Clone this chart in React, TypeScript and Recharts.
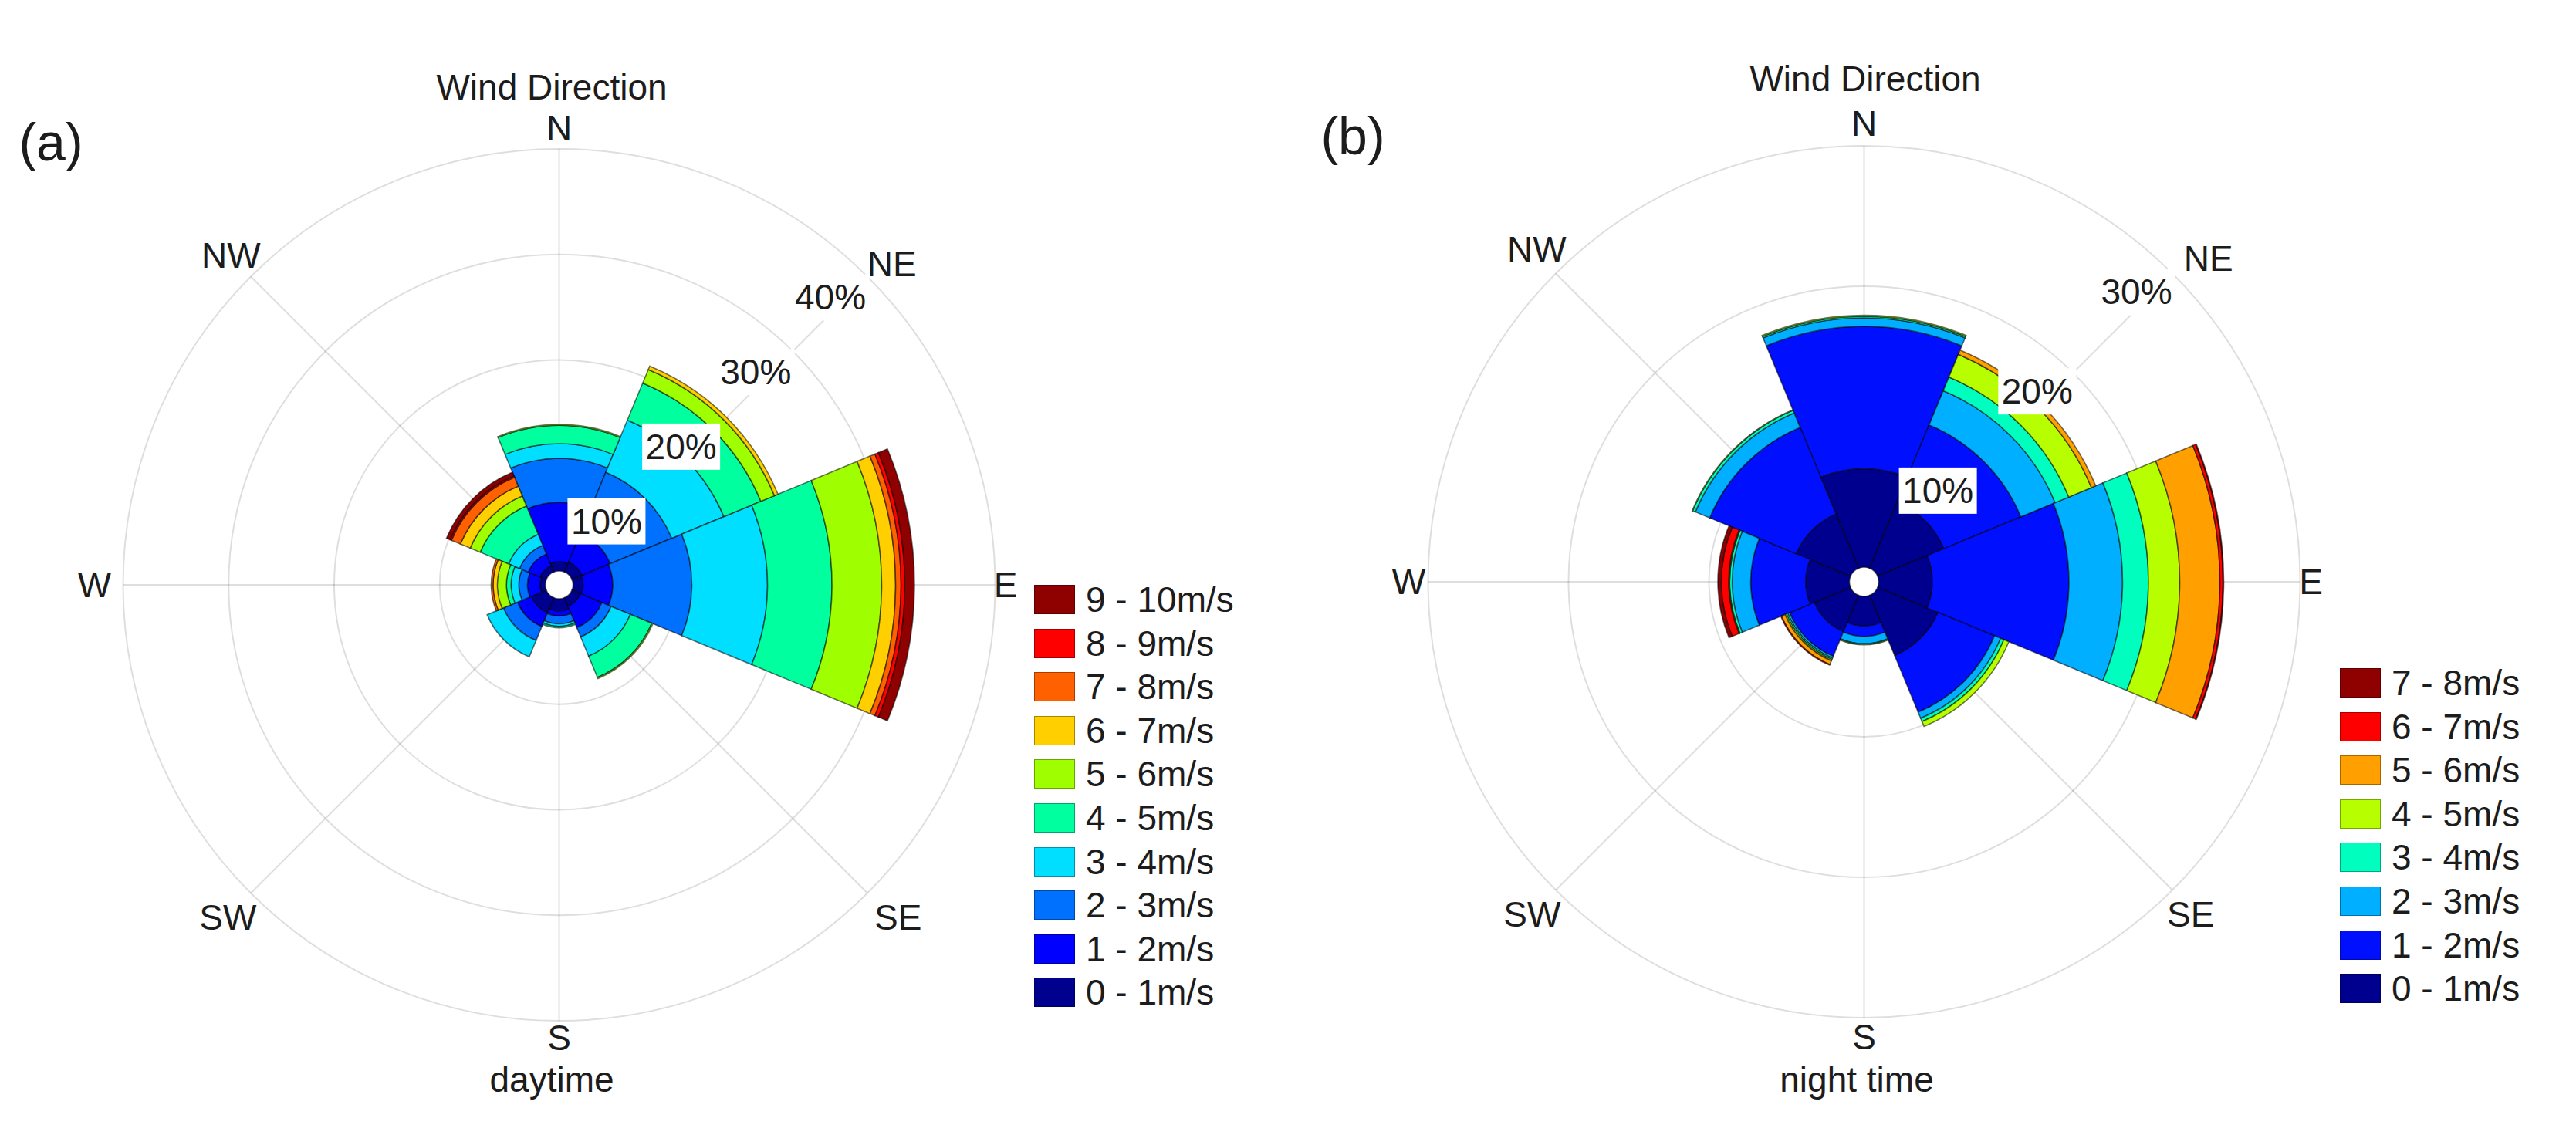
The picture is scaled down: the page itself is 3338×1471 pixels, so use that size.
import React from 'react';
import { RadialBarChart, RadialBar, PolarGrid, PolarAngleAxis, PolarRadiusAxis, Legend, Sector } from 'recharts';

const directions = ['N', 'NE', 'E', 'SE', 'S', 'SW', 'W', 'NW'];
const spokeAngles = [90, 45, 0, -45, -90, -135, 180, 135];

// Percent of time in each speed band, listed in the order of `directions`.
const day0to1 = [0.88, 1.02, 0.95, 0.88, 1.15, 1.54, 0.49, 0.64];
const day1to2 = [5.63, 2.91, 2.8, 2.19, 0.48, 1.42, 1.19, 1.22];
const day2to3 = [4.17, 6.31, 7.51, 0.95, 0.73, 1.43, 0.81, 0.88];
const day3to4 = [1.39, 5.34, 7.17, 1.98, 0.25, 1.68, 0.73, 1.12];
const day4to5 = [1.73, 3.8, 6.11, 2.19, 0.13, 0, 0.44, 2.92];
const day5to6 = [0.09, 1.39, 4.71, 0.11, 0, 0, 0.87, 1.02];
const day6to7 = [0, 0.36, 1.32, 0, 0, 0, 0.41, 1.01];
const day7to8 = [0, 0, 0.51, 0, 0, 0, 0.18, 0.92];
const day8to9 = [0, 0, 0.36, 0, 0, 0, 0, 0.14];
const day9to10 = [0, 0, 0.92, 0, 0, 0, 0, 0.37];

const night0to1 = [7.01, 5.11, 3.82, 4.65, 2.1, 2.79, 3.11, 4.18];
const night1to2 = [10.13, 5.93, 9.72, 4.36, 0.74, 1.91, 3.92, 6.67];
const night2to3 = [0.61, 2.64, 3.82, 0.47, 0.51, 0.14, 1.32, 1.11];
const night3to4 = [0.11, 1.05, 1.84, 0.25, 0.06, 0.11, 0.18, 0.21];
const night4to5 = [0.08, 1.75, 2.23, 0.38, 0.04, 0.1, 0.04, 0.03];
const night5to6 = [0, 0.33, 2.86, 0, 0, 0.28, 0.03, 0];
const night6to7 = [0, 0, 0.22, 0, 0, 0.05, 0.52, 0];
const night7to8 = [0, 0, 0.05, 0, 0, 0, 0.25, 0];

const dayBands = ['0 - 1m/s', '1 - 2m/s', '2 - 3m/s', '3 - 4m/s', '4 - 5m/s', '5 - 6m/s', '6 - 7m/s', '7 - 8m/s', '8 - 9m/s', '9 - 10m/s'];
const nightBands = dayBands.slice(0, 8);
const dayColors = ['#00008f', '#0000ff', '#0070ff', '#00dfff', '#00ff9f', '#9fff00', '#ffcf00', '#ff6000', '#ff0000', '#8f0000'];
const nightColors = ['#00008f', '#0010ff', '#00afff', '#00ffbf', '#b7ff00', '#ff9f00', '#ff0000', '#8f0000'];
const daySeries = [day0to1, day1to2, day2to3, day3to4, day4to5, day5to6, day6to7, day7to8, day8to9, day9to10];
const nightSeries = [night0to1, night1to2, night2to3, night3to4, night4to5, night5to6, night6to7, night7to8];
const dayTicks = [10, 20, 30, 40];
const nightTicks = [10, 20, 30];

const FONT = '"Liberation Sans", Arial, sans-serif';
const INK = '#1c1c1c';

const dayOffsets = { N: [0, -19], NE: [26, -11], E: [5.5, 0], SE: [34, 26], S: [0, 14], SW: [-24, 26], W: [-29, 0], NW: [-20, -22] };
const nightOffsets = { N: [0, -21], NE: [41, -14], E: [6, 0], SE: [18, 26], S: [0, 17], SW: [-25, 26], W: [-17, 0], NW: [-19, -26] };

const toRows = (series: number[][]) =>
  directions.map((dir, i) => {
    const row: Record<string, number | string> = { dir };
    series.forEach((values, band) => {
      row[`b${band}`] = values[i];
    });
    return row;
  });

// The angle axis places a tick at the edge of its sector; the label belongs half a sector further round.
const HALF_SECTOR = (22.5 * Math.PI) / 180;

function AngleTick(props: any) {
  const { x, y, payload, offsets, cx, cy } = props;
  const [dx, dy] = offsets[payload.value] || [0, 0];
  const rx = x - cx;
  const ry = y - cy;
  const px = cx + rx * Math.cos(HALF_SECTOR) + ry * Math.sin(HALF_SECTOR);
  const py = cy + ry * Math.cos(HALF_SECTOR) - rx * Math.sin(HALF_SECTOR);
  return (
    <text x={px + dx} y={py + dy} textAnchor="middle" dominantBaseline="central" fontFamily={FONT} fontSize={46} fill={INK}>
      {payload.value}
    </text>
  );
}

function RadiusTick(props: any) {
  const { x, y, payload, shiftX, shiftY } = props;
  const w = 101;
  const h = 60;
  const left = x + shiftX - w;
  const top = y + shiftY;
  return (
    <g>
      <rect x={left} y={top} width={w} height={h} fill="#fff" />
      <text x={left + w / 2} y={top + h / 2} textAnchor="middle" dominantBaseline="central" fontFamily={FONT} fontSize={46} fill={INK}>
        {`${payload.value}%`}
      </text>
    </g>
  );
}

// A speed band with no share in a direction draws nothing, not a stray arc.
function BandSector(props: any) {
  if (props.outerRadius - props.innerRadius < 0.01) return null;
  return <Sector {...props} />;
}

function LegendBox({ bands, colors }: { bands: string[]; colors: string[] }) {
  const order = bands.map((_, i) => bands.length - 1 - i);
  return (
    <div style={{ fontFamily: FONT, fontSize: 46, color: INK, lineHeight: '38px' }}>
      {order.map((i) => (
        <div key={bands[i]} style={{ display: 'flex', alignItems: 'center', height: 38, marginBottom: 18.6, whiteSpace: 'pre' }}>
          <span style={{ display: 'inline-block', width: 53, height: 38, boxSizing: 'border-box', background: colors[i], border: '1.5px solid rgba(0,0,0,0.35)', marginRight: 14 }} />
          <span>{bands[i]}</span>
        </div>
      ))}
    </div>
  );
}

function Panel(props: any) {
  const { left, width, cx, cy, series, colors, bands, ticks, domainMax, inner, offsets, legendLeft, legendTop, shiftX, shiftY } = props;
  const rows = toRows(series);
  return (
    <div style={{ position: 'absolute', left, top: 0 }}>
      <RadialBarChart
        width={width}
        height={1471}
        data={rows}
        layout="centric"
        cx={cx}
        cy={cy}
        innerRadius={inner}
        outerRadius={565}
        startAngle={67.5}
        endAngle={-292.5}
        barCategoryGap={0}
        barGap={0}
        margin={{ top: 0, right: 0, bottom: 0, left: 0 }}
      >
        <PolarAngleAxis
          type="category"
          dataKey="dir"
          axisLine={false}
          tickLine={false}
          tickSize={0}
          tick={(p: any) => <AngleTick {...p} offsets={offsets} cx={cx} cy={cy} />}
        />
        <PolarRadiusAxis
          type="number"
          domain={[0, domainMax]}
          ticks={ticks}
          angle={45}
          axisLine={false}
          tickLine={false}
          tick={(p: any) => <RadiusTick {...p} shiftX={shiftX} shiftY={shiftY} />}
        />
        {bands.map((b: string, i: number) => (
          <RadialBar
            key={b}
            dataKey={`b${i}`}
            name={b}
            stackId="speed"
            fill={colors[i]}
            stroke="#000"
            strokeOpacity={0.55}
            strokeWidth={1.6}
            shape={BandSector}
            isAnimationActive={false}
          />
        ))}
        <PolarGrid gridType="circle" polarAngles={spokeAngles} stroke="#000" strokeOpacity={0.13} strokeWidth={2} />
        <Legend
          layout="vertical"
          wrapperStyle={{ position: 'absolute', left: legendLeft, top: legendTop, width: 260 }}
          content={() => <LegendBox bands={bands} colors={colors} />}
        />
      </RadialBarChart>
    </div>
  );
}

function Caption({ x, y, size = 46, children }: { x: number; y: number; size?: number; children: string }) {
  return (
    <div
      style={{
        position: 'absolute',
        left: x,
        top: y,
        transform: 'translate(-50%, -50%)',
        fontFamily: FONT,
        fontSize: size,
        color: INK,
        whiteSpace: 'pre',
        lineHeight: 1,
      }}
    >
      {children}
    </div>
  );
}

export default function App() {
  return (
    <div style={{ position: 'absolute', left: 0, top: 0, width: 3338, height: 1471, background: '#fff', overflow: 'hidden' }}>
      <Panel
        left={0}
        width={1669}
        cx={724.5}
        cy={758}
        series={daySeries}
        colors={dayColors}
        bands={dayBands}
        ticks={dayTicks}
        domainMax={40}
        inner={18}
        offsets={dayOffsets}
        legendLeft={1340}
        legendTop={758}
        shiftX={2.5}
        shiftY={-3}
      />
      <Panel
        left={1669}
        width={1669}
        cx={746.5}
        cy={754}
        series={nightSeries}
        colors={nightColors}
        bands={nightBands}
        ticks={nightTicks}
        domainMax={30}
        inner={19}
        offsets={nightOffsets}
        legendLeft={1363}
        legendTop={866}
        shiftX={4}
        shiftY={-6}
      />
      <Caption x={66} y={184} size={68}>(a)</Caption>
      <Caption x={1753} y={176} size={68}>(b)</Caption>
      <Caption x={715} y={113}>Wind Direction</Caption>
      <Caption x={2417} y={102}>Wind Direction</Caption>
      <Caption x={715} y={1399}>daytime</Caption>
      <Caption x={2406} y={1399}>night time</Caption>
    </div>
  );
}
